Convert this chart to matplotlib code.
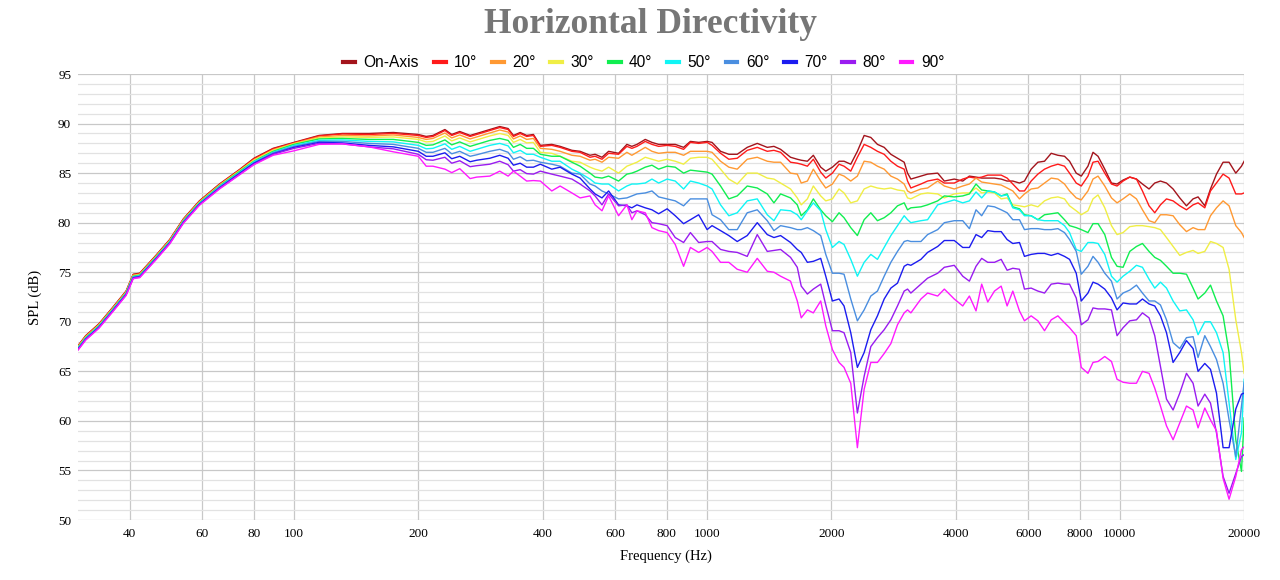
import matplotlib.pyplot as plt
from matplotlib.ticker import MultipleLocator, NullLocator

# frequency points (Hz), shared by all curves
freq = [30, 31.3, 33.7, 36.3, 39.2, 40.8, 42.3, 46.3, 50, 54, 59, 66, 74, 80, 89,
        100, 115, 131, 152, 174, 200, 209, 217, 232, 241, 252, 267, 277, 298, 315, 330, 340, 353, 366, 380,
        395, 421, 441, 471, 493, 521, 536, 557, 578, 611, 640, 658, 677, 709, 736, 764, 801, 838, 878, 912,
        955, 1001, 1029, 1079, 1130, 1184,
        1252, 1324, 1400, 1453, 1508, 1594, 1655, 1692, 1751, 1810, 1886, 1940, 2013, 2089, 2148, 2230,
        2314, 2403, 2494, 2588, 2687, 2789, 2894, 3004, 3061, 3118, 3298, 3423, 3621, 3758,
        3972, 4164, 4321, 4484, 4628, 4787, 4970, 5159, 5333, 5505, 5713, 5875, 6098, 6331, 6570, 6820,
        7079, 7345, 7554, 7841, 8064, 8370, 8610,
        8855, 9193, 9543, 9845, 10180, 10568, 10970, 11343, 11768, 12148, 12540, 12970, 13455, 13966,
        14498, 15042, 15467, 16058, 16577, 17140, 17783, 18386, 19088, 19704, 20000]

on_axis = [67.6, 68.6, 69.8, 71.4, 73.1, 74.8, 74.9, 76.7, 78.3, 80.4, 82.2, 83.9, 85.4, 86.5, 87.5,
           88.1, 88.8, 89.0, 89.0, 89.1, 88.9, 88.7, 88.8, 89.4, 88.9, 89.2, 88.8, 89.0, 89.4, 89.7, 89.5, 88.8, 89.1, 88.8, 88.9,
           87.8, 87.9, 87.7, 87.3, 87.2, 86.8, 86.9, 86.6, 87.2, 87.0, 87.9, 87.7, 87.9, 88.4, 88.1, 87.9, 87.9, 87.9, 87.6, 88.2,
           88.1, 88.2, 88.1, 87.2, 86.9, 86.9,
           87.6, 88.0, 87.6, 87.7, 87.4, 86.6, 86.4, 86.3, 86.2, 86.8, 85.6, 85.2, 85.6, 86.2, 86.2, 85.9,
           87.2, 88.8, 88.6, 87.9, 87.6, 86.9, 86.5, 86.1, 85.0, 84.4, 84.7, 84.9, 85.0, 84.2,
           84.4, 84.2, 84.7, 84.6, 84.5, 84.5, 84.5, 84.4, 84.2, 84.2, 84.0, 84.2, 85.4, 86.1, 86.2, 87.0,
           86.8, 86.7, 86.2, 85.0, 84.7, 85.7, 87.1,
           86.7, 85.4, 84.0, 83.9, 84.3, 84.6, 84.4, 83.9, 83.4, 84.0, 84.2, 84.0, 83.4, 82.5,
           81.7, 82.4, 82.6, 81.7, 83.4, 84.9, 86.1, 86.1, 85.0, 85.7, 86.2]

deg10 = [67.55, 68.55, 69.75, 71.35, 73.05, 74.75, 74.85, 76.65, 78.25, 80.35, 82.15, 83.85, 85.35, 86.45, 87.45,
         88.05, 88.75, 88.95, 88.9, 89.0, 88.8, 88.6, 88.7, 89.3, 88.8, 89.1, 88.7, 88.9, 89.3, 89.6, 89.4, 88.7, 89.0, 88.7, 88.8,
         87.7, 87.8, 87.6, 87.2, 87.1, 86.6, 86.7, 86.4, 87.0, 86.9, 87.7, 87.5, 87.7, 88.2, 87.9, 87.7, 87.8, 87.7, 87.4, 88.1,
         88.0, 88.1, 87.8, 87.0, 86.4, 86.5,
         87.3, 87.6, 87.2, 87.3, 87.1, 86.1, 86.0, 85.9, 85.7, 86.4, 85.1, 84.5, 85.0, 85.9, 85.7, 85.2,
         86.6, 87.9, 87.6, 87.2, 86.9, 86.2, 85.7, 85.4, 84.2, 83.5, 83.9, 84.2, 84.4, 84.0,
         84.0, 84.4, 84.6, 84.5, 84.6, 84.8, 84.8, 84.8, 84.5, 83.9, 83.2, 83.2, 84.2, 84.9, 85.4, 85.7,
         85.9, 85.7, 85.0, 84.0, 83.7, 84.7, 86.1,
         86.2, 85.0, 83.9, 83.7, 84.2, 84.6, 84.4, 83.2, 81.7, 81.0, 81.8, 82.4, 82.2, 81.7,
         81.3, 81.8, 82.0, 81.5, 83.2, 84.0, 84.9, 84.5, 82.9, 82.9, 83.0]

deg20 = [67.5, 68.5, 69.7, 71.3, 73.0, 74.7, 74.8, 76.6, 78.2, 80.3, 82.1, 83.8, 85.3, 86.35, 87.35,
         88.0, 88.65, 88.8, 88.75, 88.85, 88.6, 88.4, 88.5, 89.05, 88.55, 88.85, 88.45, 88.65, 89.05, 89.35, 89.15, 88.45, 88.75, 88.4, 88.5,
         87.5, 87.4, 87.2, 86.8, 86.7, 86.3, 86.4, 86.1, 86.6, 86.5, 87.1, 86.8, 87.1, 87.6, 87.2, 87.0, 87.1, 87.1, 86.8, 87.2,
         87.2, 87.2, 87.1, 86.2, 85.6, 85.4,
         86.4, 86.6, 86.2, 86.1, 86.1, 85.0, 84.9, 84.0, 84.2, 85.4, 84.2, 83.5, 83.9, 84.9, 84.7, 84.2,
         84.7, 86.2, 86.1, 85.7, 85.4, 84.7, 84.4, 83.9, 83.2, 83.0, 83.4, 83.5, 84.2, 83.7,
         83.4, 83.7, 83.9, 84.5, 84.1, 84.0, 83.9, 83.8, 83.5, 83.2, 82.4, 82.9, 83.4, 83.5, 84.0, 84.5,
         84.4, 83.9, 83.2, 82.5, 82.3, 83.2, 84.4,
         84.7, 83.7, 82.5, 82.0, 82.4, 82.9, 82.4, 81.3, 80.2, 80.0, 80.8, 80.8, 80.7, 79.8,
         79.1, 79.5, 79.3, 79.3, 80.7, 81.5, 82.2, 81.7, 79.7, 79.0, 78.5]

deg30 = [67.45, 68.45, 69.65, 71.25, 72.95, 74.65, 74.75, 76.55, 78.15, 80.25, 82.05, 83.75, 85.25, 86.3, 87.3,
         87.95, 88.55, 88.65, 88.6, 88.65, 88.4, 88.15, 88.2, 88.75, 88.25, 88.55, 88.15, 88.35, 88.75, 89.0, 88.8, 88.1, 88.4, 88.05, 88.1,
         87.1, 87.0, 86.7, 86.2, 86.1, 85.6, 85.4, 85.2, 85.6, 85.0, 85.7, 85.9, 86.1, 86.6, 86.4, 86.2, 86.4, 86.2, 85.9, 86.5,
         86.6, 86.6, 86.4, 85.4, 84.4, 83.9,
         85.0, 85.0, 84.5, 84.4, 84.0, 83.4, 82.5, 81.8, 82.4, 83.7, 82.7, 82.2, 82.4, 83.4, 83.0, 82.0,
         82.2, 83.4, 83.7, 83.5, 83.4, 83.5, 83.3, 83.2, 82.5, 82.4, 82.9, 83.0, 82.9, 82.5,
         82.9, 83.0, 83.0, 83.5, 83.0, 83.1, 83.0, 82.4, 82.5, 81.8, 81.7, 81.6, 81.8, 81.6, 82.2, 82.5,
         82.6, 82.4, 81.7, 81.2, 80.8, 81.2, 82.4,
         82.8, 81.5, 79.7, 78.8, 79.0, 79.6, 79.7, 79.7, 79.6, 79.5, 79.3, 78.5, 77.6, 76.7,
         77.0, 77.2, 76.9, 77.1, 78.1, 77.9, 77.5, 75.3, 70.2, 66.9, 64.8]

deg40 = [67.4, 68.4, 69.6, 71.2, 72.9, 74.6, 74.7, 76.5, 78.1, 80.2, 82.0, 83.7, 85.2, 86.2, 87.2,
         87.9, 88.45, 88.5, 88.4, 88.4, 88.1, 87.8, 87.85, 88.35, 87.85, 88.15, 87.7, 87.9, 88.3, 88.5, 88.3, 87.6, 87.9, 87.5, 87.5,
         86.9, 86.7, 86.7, 86.1, 85.7, 85.0, 84.6, 84.5, 84.7, 84.2, 84.9, 85.0, 85.2, 85.6, 85.8, 85.4, 85.7, 85.6, 85.0, 85.3,
         85.2, 85.1, 84.9, 83.7, 82.4, 82.7,
         83.7, 83.5, 82.9, 82.0, 82.9, 82.5, 81.8, 80.7, 81.3, 82.4, 81.3, 80.7, 80.1, 81.0, 80.5, 79.5,
         78.7, 80.3, 81.0, 80.2, 80.5, 81.0, 81.7, 82.0, 81.3, 81.5, 81.6, 81.8, 82.2, 82.7,
         82.6, 82.7, 82.9, 83.9, 83.3, 83.2, 83.1, 82.7, 82.9, 81.6, 81.4, 80.8, 80.7, 80.3, 80.8, 80.9,
         81.0, 80.3, 79.7, 79.5, 79.3, 79.0, 79.9,
         79.9, 78.8, 76.5, 75.6, 75.5, 77.1, 77.6, 77.9, 77.1, 76.5, 76.2, 75.6, 74.9, 74.9,
         74.8, 73.4, 72.3, 72.9, 73.7, 72.1, 70.6, 66.9, 58.1, 54.9, 60.3]

deg50 = [67.35, 68.35, 69.55, 71.15, 72.85, 74.55, 74.65, 76.45, 78.05, 80.15, 81.95, 83.65, 85.1, 86.15, 87.1,
         87.8, 88.3, 88.35, 88.2, 88.15, 87.8, 87.45, 87.5, 87.95, 87.4, 87.7, 87.2, 87.4, 87.8, 88.0, 87.75, 87.05, 87.3, 86.9, 86.9,
         86.6, 86.2, 86.2, 85.4, 85.0, 84.4, 84.0, 83.9, 83.9, 83.2, 83.7, 83.9, 83.9, 84.0, 84.4, 84.0, 84.4, 84.2, 83.4, 84.2,
         84.0, 83.7, 83.4, 81.8, 80.7, 81.0,
         82.2, 82.4, 80.8, 80.2, 81.3, 81.2, 80.8, 80.3, 81.2, 82.0, 81.2, 79.3, 77.5, 78.1, 77.8, 76.3,
         74.6, 76.0, 76.8, 76.3, 77.5, 78.7, 79.7, 80.7, 80.3, 80.0, 80.2, 80.3, 81.8, 82.0,
         82.3, 82.0, 82.2, 83.1, 82.5, 83.2, 83.1, 82.7, 82.8, 81.5, 81.3, 80.7, 80.7, 80.3, 80.2, 80.2,
         80.2, 79.7, 79.0, 77.3, 77.1, 78.0, 78.0,
         77.9, 76.8, 74.6, 74.0, 74.6, 75.1, 75.7, 75.5, 74.3, 73.4, 74.0, 73.4, 72.1, 71.1,
         71.2, 70.2, 68.7, 70.0, 70.0, 68.9, 66.9, 61.8, 56.1, 58.8, 64.2]

deg60 = [67.3, 68.3, 69.5, 71.1, 72.8, 74.5, 74.6, 76.4, 78.0, 80.1, 81.9, 83.6, 85.05, 86.05, 87.05,
         87.7, 88.2, 88.2, 88.0, 87.9, 87.5, 87.1, 87.1, 87.5, 86.95, 87.2, 86.7, 86.85, 87.2, 87.4, 87.1, 86.4, 86.65, 86.25, 86.3,
         86.1, 85.9, 85.7, 85.0, 84.9, 83.9, 83.7, 83.2, 82.9, 82.4, 82.5, 82.7, 82.9, 83.0, 83.2, 82.6, 82.4, 82.2, 81.7, 82.4,
         82.4, 82.4, 80.8, 80.3, 79.3, 79.3,
         81.0, 81.3, 80.2, 79.2, 79.7, 79.5, 79.3, 79.3, 79.5, 79.2, 78.7, 76.8, 74.9, 74.9, 74.8, 72.3,
         70.1, 71.2, 72.6, 73.1, 74.6, 76.0, 77.1, 78.1, 78.2, 78.1, 78.1, 78.8, 79.3, 80.0,
         80.2, 80.2, 79.4, 81.3, 80.7, 81.7, 81.6, 81.3, 81.0, 80.3, 80.3, 79.3, 79.4, 79.4, 79.3, 79.3,
         79.4, 79.0, 78.3, 77.1, 74.8, 75.6, 76.6,
         76.0, 74.9, 74.1, 72.3, 72.9, 73.2, 73.7, 72.9, 72.1, 72.1, 71.7, 70.2, 67.9, 67.3,
         68.4, 68.5, 66.4, 68.6, 67.5, 66.2, 63.8, 60.1, 56.4, 61.5, 63.9]

deg70 = [67.25, 68.25, 69.45, 71.05, 72.75, 74.45, 74.55, 76.35, 77.95, 80.05, 81.85, 83.5, 85.0, 86.0, 86.95,
         87.6, 88.1, 88.05, 87.8, 87.65, 87.2, 86.7, 86.7, 87.05, 86.45, 86.7, 86.15, 86.3, 86.5, 86.8, 86.5, 85.8, 86.0, 85.6, 85.6,
         85.9, 85.4, 85.6, 84.9, 84.5, 83.4, 82.9, 82.5, 83.2, 81.8, 81.7, 81.5, 81.8, 81.5, 81.3, 80.9, 81.4, 80.7, 79.9, 80.3,
         80.8, 79.3, 79.7, 79.2, 78.7, 78.1,
         78.7, 80.0, 78.8, 78.5, 78.7, 78.0, 77.3, 77.0, 76.0, 76.1, 76.4, 74.6, 72.1, 72.3, 71.6, 68.9,
         65.4, 66.9, 69.2, 70.6, 72.3, 73.4, 73.9, 75.6, 75.8, 75.7, 76.3, 77.0, 77.6, 78.2,
         78.2, 77.5, 77.5, 78.8, 78.5, 79.2, 79.1, 79.1, 78.3, 77.9, 78.0, 76.6, 76.8, 76.9, 76.9, 76.7,
         76.9, 76.6, 76.3, 74.9, 72.1, 72.9, 74.0,
         73.8, 73.3, 72.4, 71.2, 71.9, 71.8, 71.8, 72.3, 71.8, 71.6, 70.6, 68.9, 65.9, 66.9,
         68.1, 67.3, 65.0, 65.8, 65.2, 62.8, 57.3, 57.3, 61.2, 62.7, 62.8]

deg80 = [67.2, 68.2, 69.4, 71.0, 72.7, 74.4, 74.5, 76.3, 77.9, 80.0, 81.8, 83.45, 84.9, 85.9, 86.9,
         87.5, 88.0, 87.95, 87.65, 87.45, 86.9, 86.35, 86.3, 86.6, 86.0, 86.25, 85.65, 85.75, 85.9, 86.2, 85.85, 85.2, 85.35, 84.95, 84.9,
         85.2, 84.9, 84.7, 84.4, 83.9, 83.2, 82.7, 81.8, 82.9, 81.7, 81.8, 81.0, 81.2, 80.8, 80.0, 79.9, 79.7, 78.5, 78.0, 79.0,
         78.0, 78.1, 78.1, 77.3, 77.1, 77.0,
         76.6, 78.8, 77.1, 77.2, 77.3, 76.5, 75.5, 73.6, 72.8, 73.3, 73.8, 71.7, 69.1, 69.1, 68.9, 66.9,
         60.8, 64.5, 67.5, 68.4, 69.2, 70.2, 71.6, 73.1, 73.3, 72.9, 73.8, 74.4, 74.9, 75.5,
         75.7, 74.6, 74.1, 75.6, 76.4, 76.0, 76.0, 76.3, 75.2, 75.4, 75.3, 73.3, 73.4, 73.1, 72.9, 73.8,
         73.9, 73.8, 73.8, 72.4, 69.7, 70.2, 71.4,
         71.3, 71.3, 71.2, 68.6, 69.4, 70.1, 70.2, 70.9, 70.4, 68.6, 65.5, 62.2, 61.1, 62.8,
         64.8, 63.8, 61.5, 62.7, 61.8, 58.8, 54.4, 52.7, 54.7, 56.4, 56.6]

deg90 = [67.15, 68.15, 69.35, 70.95, 72.65, 74.35, 74.45, 76.25, 77.85, 79.95, 81.75, 83.4, 84.85, 85.85, 86.8,
         87.25, 87.9, 87.95, 87.65, 87.15, 86.7, 85.7, 85.7, 85.4, 85.05, 85.45, 84.45, 84.6, 84.7, 85.2, 84.7, 85.2, 84.7, 84.2, 84.25,
         84.2, 83.2, 83.7, 83.0, 82.5, 82.7, 81.8, 81.2, 82.7, 80.7, 81.8, 80.3, 81.2, 81.0, 79.5, 79.2, 79.0, 77.8, 75.6, 77.5,
         77.0, 77.5, 77.1, 76.0, 76.0, 75.3,
         75.0, 76.4, 75.1, 75.0, 74.6, 74.1, 72.1, 70.4, 71.2, 70.9, 72.1, 69.6, 67.2, 65.9, 65.4, 63.8,
         57.3, 63.2, 65.9, 65.9, 66.8, 67.8, 69.7, 70.9, 71.2, 70.9, 72.3, 72.9, 72.6, 73.3,
         72.3, 71.6, 72.6, 71.1, 73.8, 72.0, 73.1, 73.6, 71.6, 73.1, 71.1, 70.1, 70.6, 70.1, 69.1, 70.2,
         70.6, 69.9, 69.4, 68.6, 65.4, 64.8, 65.9,
         66.0, 66.5, 66.0, 64.2, 63.9, 63.8, 63.8, 65.0, 64.8, 63.3, 61.5, 59.5, 58.1, 59.8,
         61.5, 61.1, 59.3, 61.3, 60.1, 59.0, 54.2, 52.1, 54.4, 57.1, 57.4]

names = ["On-Axis", "10°", "20°", "30°", "40°", "50°", "60°", "70°", "80°", "90°"]
curves = [on_axis, deg10, deg20, deg30, deg40, deg50, deg60, deg70, deg80, deg90]
colors = ["#a3141c", "#ff1a1a", "#ff9933", "#f0ee45", "#10ee50", "#10f5f5",
          "#4a8ee0", "#1c1cf0", "#9a1cf0", "#ff1aff"]

xticks = [40, 60, 80, 100, 200, 400, 600, 800, 1000, 2000, 4000, 6000, 8000, 10000, 20000]

serif = ["Liberation Serif", "DejaVu Serif"]

fig = plt.figure(figsize=(12.8, 5.8), dpi=100)
ax = fig.add_axes([0.061, 0.1034, 0.911, 0.769])

for name, vals, c in zip(names, curves, colors):
    ax.plot(freq, vals, color=c, lw=1.0, label=name)

ax.set_xscale("log")
ax.set_xlim(30, 20000)
ax.set_ylim(50, 95)
ax.set_xticks(xticks)
ax.set_xticklabels([str(t) for t in xticks])
ax.xaxis.set_minor_locator(NullLocator())
ax.set_yticks(range(50, 96, 5))
ax.yaxis.set_minor_locator(MultipleLocator(1))

ax.grid(which="major", color="#c8c8c8", lw=0.9)
ax.grid(which="minor", axis="y", color="#e2e2e2", lw=0.9)
ax.set_axisbelow(True)
for s in ax.spines.values():
    s.set_visible(False)
ax.tick_params(which="both", length=0)
ax.tick_params(axis="y", pad=5)
ax.tick_params(axis="x", pad=6)
for lab in ax.get_xticklabels() + ax.get_yticklabels():
    lab.set_family(serif)
    lab.set_fontsize(9.5)

fig.text(0.508, 0.9431, "Horizontal Directivity", ha="center", va="baseline",
         family=serif, fontsize=25.5, fontweight="bold", color="#767676")
fig.text(0.52, 0.041, "Frequency (Hz)", ha="center", va="center", family=serif, fontsize=10.5)
fig.text(0.0273, 0.488, "SPL (dB)", ha="center", va="center", rotation=90, family=serif, fontsize=10.5)

leg = fig.legend(loc="center", bbox_to_anchor=(0.503, 0.892), ncol=10, frameon=False,
                 handlelength=0.75, handletextpad=0.55, columnspacing=0.95,
                 prop={"family": ["Liberation Sans", "DejaVu Sans"], "size": 11.2})
for h in leg.legend_handles:
    h.set_linewidth(3.0)

fig.savefig("out.png", dpi=100)
